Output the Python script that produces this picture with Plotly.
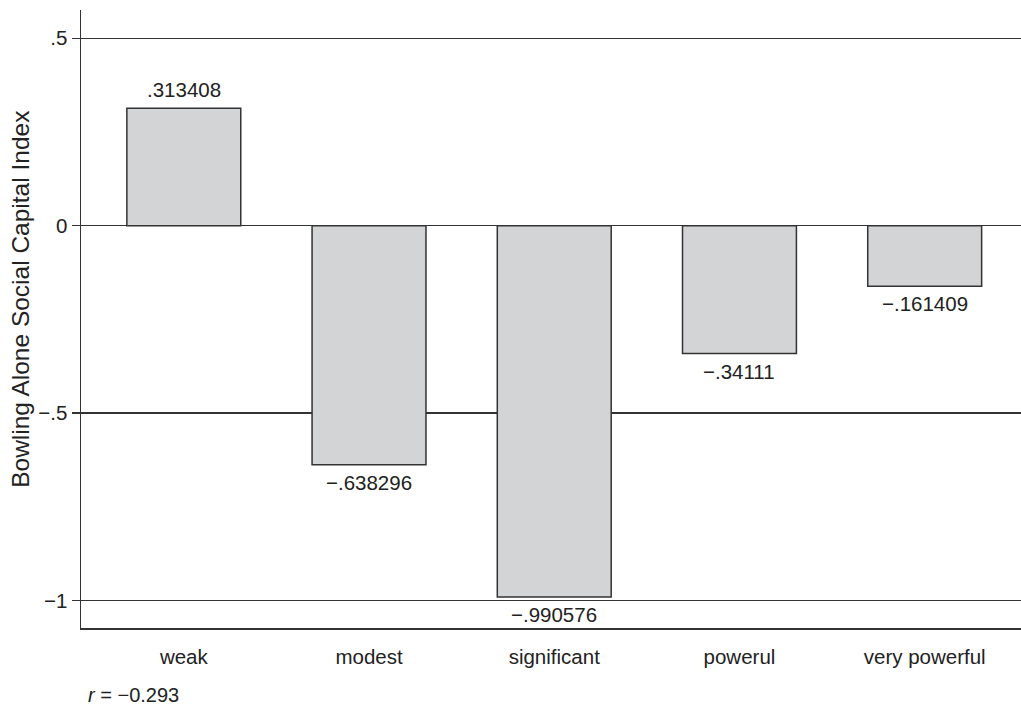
import plotly.graph_objects as go

categories = ["weak", "modest", "significant", "powerul", "very powerful"]
values = [0.313408, -0.638296, -0.990576, -0.34111, -0.161409]
value_labels = [".313408", "\u2212.638296", "\u2212.990576", "\u2212.34111", "\u2212.161409"]
y_tickvals = [0.5, 0, -0.5, -1]
y_ticktext = [".5", "0", "\u2212.5", "\u22121"]
y_title = "Bowling Alone Social Capital Index"
r_note = "<i>r</i> = \u22120.293"

FONT = "Liberation Sans, Arial, sans-serif"
TXT = "#222222"

fig = go.Figure()
fig.add_trace(go.Bar(
    x=categories, y=values,
    marker=dict(color="#d3d4d6", line=dict(color="#333333", width=1.5)),
    width=0.615,
    hoverinfo="skip",
))

for c, v, t in zip(categories, values, value_labels):
    fig.add_annotation(
        x=c, y=v, text=t, showarrow=False,
        yanchor="bottom" if v >= 0 else "top",
        yshift=5 if v >= 0 else -4,
        font=dict(family=FONT, size=20.5, color=TXT),
    )

# r note below the axis
fig.add_annotation(
    xref="paper", yref="paper", x=0.005, y=-0.108, xanchor="left", yanchor="middle",
    text=r_note, showarrow=False,
    font=dict(family=FONT, size=20, color=TXT),
)

# y-axis title
fig.add_annotation(
    xref="paper", yref="paper", x=-60 / 940, y=0.531, xanchor="center", yanchor="middle",
    text=y_title, textangle=-90, showarrow=False,
    font=dict(family=FONT, size=24.5, color=TXT),
)

fig.update_layout(
    width=1021, height=707,
    margin=dict(l=81, r=0, t=10, b=79),
    plot_bgcolor="white", paper_bgcolor="white",
    showlegend=False,
    font=dict(family=FONT, size=20, color=TXT),
)
fig.update_xaxes(
    range=[-0.555, 4.52], automargin=False, layer="below traces",
    showline=True, linecolor="#333333", linewidth=1.5,
    showgrid=False, zeroline=False,
    ticks="outside", ticklen=10, tickcolor="rgba(0,0,0,0)",
    tickfont=dict(family=FONT, size=20.5, color=TXT),
)
fig.update_yaxes(
    range=[-1.0736, 0.5755], automargin=False, layer="below traces",
    tickvals=y_tickvals, ticktext=y_ticktext,
    showline=True, linecolor="#333333", linewidth=1.5,
    showgrid=True, gridcolor="#333333", gridwidth=1.2,
    zeroline=False,
    ticks="outside", ticklen=8, tickcolor="#333333", tickwidth=1.2,
    tickfont=dict(family=FONT, size=20.5, color=TXT),
)

fig.write_html(
    "out.html",
    config={"displayModeBar": False, "staticPlot": True},
    post_script="document.body.style.margin='0';document.body.style.overflow='hidden';",
)
